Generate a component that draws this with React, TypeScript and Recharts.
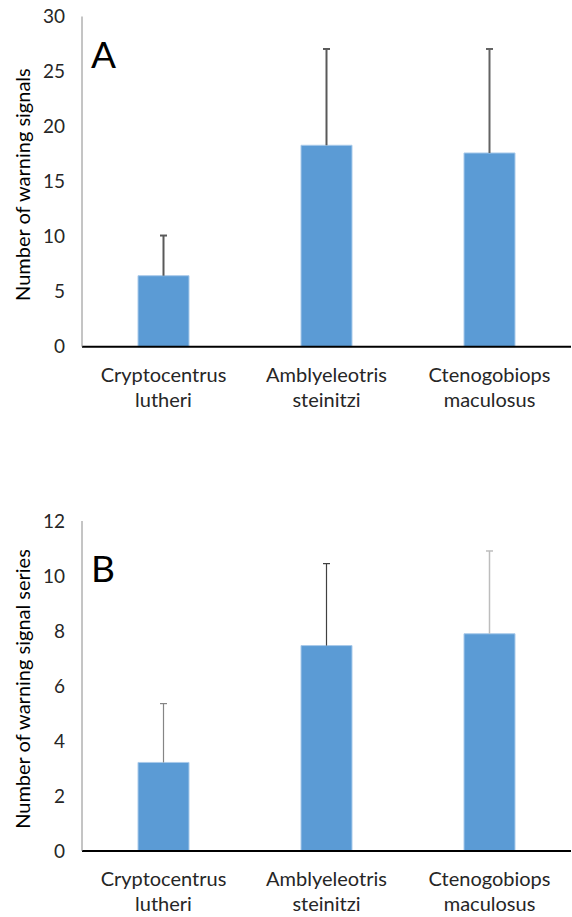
import React from "react";
import { BarChart, Bar, XAxis, YAxis, Label } from "recharts";

const categories = ["Cryptocentrus lutheri", "Amblyeleotris steinitzi", "Ctenogobiops maculosus"];
const signalsMean = [6.45, 18.3, 17.6];
const signalsSD = [3.65, 8.75, 9.45];
const seriesMean = [3.22, 7.47, 7.9];
const seriesSD = [2.14, 2.98, 3.01];
const ticksA = [0, 5, 10, 15, 20, 25, 30];
const ticksB = [0, 2, 4, 6, 8, 10, 12];

const FONT = "Lato, 'Open Sans', sans-serif";
const BAR_FILL = "#5B9BD5";
const BAR_EDGE = "#A9CAEA";
const errStyleA = [
  { color: "#595959", w: 2 },
  { color: "#595959", w: 2 },
  { color: "#636363", w: 2 },
];
const errStyleB = [
  { color: "#858585", w: 1.2 },
  { color: "#404040", w: 1.2 },
  { color: "#bdbdbd", w: 1.5 },
];

const dataA = categories.map((c, i) => ({ name: c, mean: signalsMean[i], err: signalsSD[i] }));
const dataB = categories.map((c, i) => ({ name: c, mean: seriesMean[i], err: seriesSD[i] }));

const makeErrShape = (styles: { color: string; w: number }[]) => (props: any) => {
  const { x, y, width, height, index } = props;
  const s = styles[index] || styles[0];
  const cx = x + width / 2;
  return (
    <g>
      <line x1={cx} y1={y} x2={cx} y2={y + height} stroke={s.color} strokeWidth={s.w} />
      <line x1={cx - 3.5} y1={y} x2={cx + 3.5} y2={y} stroke={s.color} strokeWidth={s.w} />
    </g>
  );
};

const XTick = (props: any) => {
  const { x, y, payload } = props;
  const parts = String(payload.value).split(" ");
  return (
    <text x={x} y={y} textAnchor="middle" fill="#262626" fontFamily={FONT} fontSize={20}>
      {parts.map((p, i) => (
        <tspan key={i} x={x} dy={i === 0 ? 35 : 25}>
          {p}
        </tspan>
      ))}
    </text>
  );
};

const makeYLabel = (title: string, letter: string, letterDy: number) => (props: any) => {
  const vb = props.viewBox || { x: 0, y: 0, width: 0, height: 0 };
  const cx = 22;
  const cy = vb.y + vb.height / 2 + 3;
  return (
    <g>
      <text
        x={cx}
        y={cy}
        transform={`rotate(-90, ${cx}, ${cy})`}
        textAnchor="middle"
        dominantBaseline="central"
        fill="#000"
        fontFamily={FONT}
        fontSize={20}
      >
        {title}
      </text>
      <text x={91} y={vb.y + letterDy} fill="#000" fontFamily={FONT} fontSize={37}>
        {letter}
      </text>
    </g>
  );
};

function Panel({
  data,
  ticks,
  max,
  height,
  top,
  bottom,
  title,
  letter,
  letterDy,
  errStyles,
}: any) {
  return (
    <BarChart
      width={572}
      height={height}
      data={data}
      margin={{ top, right: 1, left: 0, bottom }}
      barSize={51}
    >
      <XAxis
        dataKey="name"
        height={60}
        tickLine={false}
        axisLine={{ stroke: "#000", strokeWidth: 2 }}
        tick={<XTick />}
        tickSize={0}
        tickMargin={0}
        interval={0}
      />
      <YAxis
        width={82}
        domain={[0, max]}
        ticks={ticks}
        interval={0}
        tickLine={false}
        tickSize={0}
        tickMargin={17}
        axisLine={{ stroke: "#8a8a8a", strokeWidth: 1 }}
        tick={{ fill: "#262626", fontSize: 19, fontFamily: FONT }}
      >
        <Label content={makeYLabel(title, letter, letterDy)} />
      </YAxis>
      <Bar
        dataKey="mean"
        stackId="s"
        fill={BAR_FILL}
        stroke={BAR_EDGE}
        strokeWidth={1}
        isAnimationActive={false}
      />
      <Bar dataKey="err" stackId="s" shape={makeErrShape(errStyles)} isAnimationActive={false} />
    </BarChart>
  );
}

export default function App() {
  return (
    <div style={{ position: "absolute", left: 0, top: 0, width: 572, height: 917, background: "#fff" }}>
      <div style={{ position: "absolute", left: 0, top: 0 }}>
        <Panel
          data={dataA}
          ticks={ticksA}
          max={30}
          height={460}
          top={16.5}
          bottom={460 - 346.7 - 60}
          title="Number of warning signals"
          letter="A"
          letterDy={51}
          errStyles={errStyleA}
        />
      </div>
      <div style={{ position: "absolute", left: 0, top: 460 }}>
        <Panel
          data={dataB}
          ticks={ticksB}
          max={12}
          height={457}
          top={61}
          bottom={457 - 391 - 60}
          title="Number of warning signal series"
          letter="B"
          letterDy={61}
          errStyles={errStyleB}
        />
      </div>
    </div>
  );
}
